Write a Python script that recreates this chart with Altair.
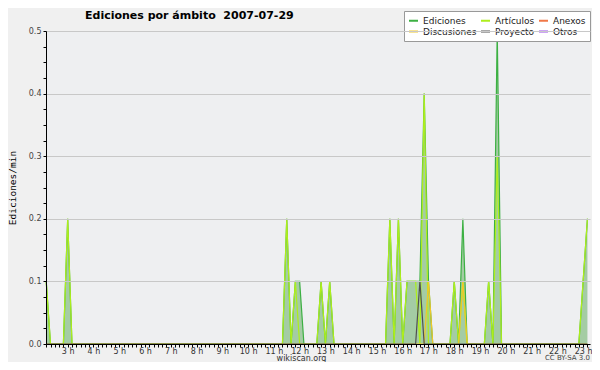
import altair as alt
import pandas as pd

# ---- data (10-minute bins, edits per minute) ----
start_time = "02:10"
end_time = "23:10"
axis_start, axis_end = 129.5, 1396  # minutes shown on the time axis
series_names = ["Ediciones", "Artículos", "Anexos", "Discusiones", "Proyecto", "Otros"]
series_colors = ["#3cb043", "#aeee1c", "#f07848", "#f0c828", "#505050", "#9848e8"]

ed_times = ["02:10", "03:00", "11:30", "11:50", "12:00", "12:50", "13:10", "15:30", "15:50",
            "16:10", "16:20", "16:30", "16:40", "16:50", "17:00", "18:00", "18:20", "19:20",
            "19:40", "23:00", "23:10"]
ed_vals = [0.1, 0.2, 0.2, 0.1, 0.1, 0.1, 0.1, 0.2, 0.2,
           0.1, 0.1, 0.1, 0.1, 0.4, 0.1, 0.1, 0.2, 0.1,
           0.5, 0.1, 0.2]

art_times = ["02:10", "03:00", "11:30", "11:50", "12:50", "13:10", "15:30", "15:50", "16:10",
             "16:20", "16:30", "16:50", "18:00", "18:20", "19:20", "19:40", "23:00", "23:10"]
art_vals = [0.1, 0.2, 0.2, 0.1, 0.1, 0.1, 0.2, 0.2, 0.1,
            0.1, 0.1, 0.4, 0.1, 0.1, 0.1, 0.3, 0.1, 0.2]

disc_times = ["17:00", "18:20"]
disc_vals = [0.1, 0.1]

proy_times = ["16:40"]
proy_vals = [0.1]

y_ticks = [round(i * 0.025, 3) for i in range(21)]

title_text = "Ediciones por ámbito\u00a0 2007-07-29"
credit_text = "CC BY-SA 3.0"


def to_min(t):
    h, m = t.split(":")
    return int(h) * 60 + int(m)


t0, t1 = to_min(start_time), to_min(end_time)
grid = list(range(t0, t1 + 1, 10))


def build(name, times, vals):
    lookup = {to_min(t): v for t, v in zip(times, vals)}
    return pd.DataFrame({"m": grid, "v": [lookup.get(m, 0.0) for m in grid], "s": name})


df = pd.concat([
    build("Ediciones", ed_times, ed_vals),
    build("Artículos", art_times, art_vals),
    build("Discusiones", disc_times, disc_vals),
    build("Proyecto", proy_times, proy_vals),
])

FONT = "DejaVu Sans"

x_enc = alt.X(
    "m:Q",
    scale=alt.Scale(domain=[axis_start, axis_end], nice=False, zero=False),
    axis=alt.Axis(
        values=grid,
        labelExpr="datum.value % 60 == 0 ? (datum.value / 60) + ' h' : ''",
        labelOverlap=False, labelFlush=False,
        tickSize=3, tickColor="black", domainColor="black",
        labelPadding=0, labelFontSize=8, labelColor="#333", labelFont=FONT,
        grid=False, zindex=1,
        title="wikiscan.org", titleFont=FONT, titleFontSize=8, titleFontWeight="normal",
        titleColor="#333", titleX=255, titleY=14.5, titleAlign="center", titleBaseline="middle",
    ),
)
y_enc = alt.Y(
    "v:Q",
    scale=alt.Scale(domain=[0, 0.5], nice=False),
    axis=alt.Axis(
        values=y_ticks,
        labelExpr="(round(datum.value * 1000) % 100 == 0) ? format(datum.value, '.1f') : ''",
        tickSize=3, tickColor="black", domainColor="black",
        labelPadding=2, labelFontSize=8, labelColor="#444", labelFont=FONT,
        grid=True, gridColor="#c8c8c8",
        gridOpacity={"condition": {"test": "round(datum.value * 1000) % 100 == 0", "value": 1}, "value": 0},
        zindex=1,
        title="Ediciones/min", titleFont="DejaVu Sans Mono", titleFontSize=9.5,
        titleFontWeight="normal", titleColor="black", titlePadding=11,
    ),
)

color_scale = alt.Scale(domain=series_names, range=series_colors)
legend = alt.Legend(
    title=None, orient="none", legendX=358, legendY=-20, columns=3, direction="horizontal",
    fillColor="white", strokeColor="#999", padding=4, labelFont=FONT, labelFontSize=9,
    labelColor="#222", symbolType="stroke", symbolSize=81, symbolStrokeWidth=2,
    symbolOpacity=1, rowPadding=0, columnPadding=0, labelOffset=4,
)

base = alt.Chart(df)

area = base.transform_filter(alt.datum.s == "Ediciones").mark_area(
    color="#9fc99f", opacity=0.95
).encode(x=x_enc, y=y_enc)


def line(name):
    return base.transform_filter(alt.datum.s == name).mark_line(strokeWidth=1.2).encode(
        x=x_enc, y=y_enc, color=alt.Color("s:N", scale=color_scale, legend=legend)
    )


credit = alt.Chart(pd.DataFrame({"t": [credit_text]})).mark_text(
    align="right", baseline="middle", fontSize=7, font=FONT, color="#444"
).encode(text="t:N", x=alt.value(544), y=alt.value(327))

title = alt.Chart(pd.DataFrame({"t": [title_text]})).mark_text(
    align="left", baseline="alphabetic", fontSize=11, font=FONT, fontWeight="bold", color="black"
).encode(text="t:N", x=alt.value(39), y=alt.value(-12.5))

chart = alt.layer(
    area, line("Ediciones"), line("Artículos"), line("Discusiones"), line("Proyecto"),
    credit, title
).properties(
    width=544, height=313,
    background="#f0f0f0",
    autosize=alt.AutoSizeParams(type="none"),
    padding={"left": 38, "top": 23, "right": 2, "bottom": 18},
).configure_view(fill="#eeeff1", stroke=None)

chart.save("out.html", embed_options={"renderer": "svg", "actions": False})
